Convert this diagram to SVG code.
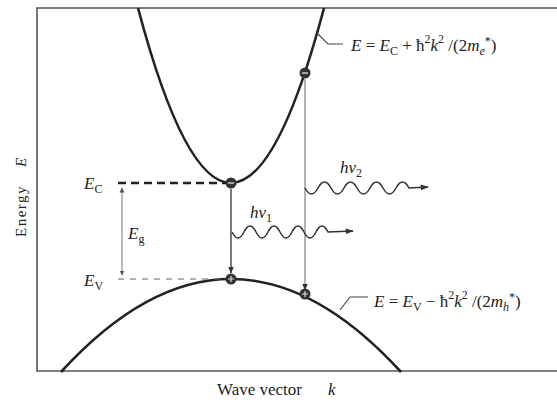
<svg xmlns="http://www.w3.org/2000/svg" width="557" height="400" viewBox="0 0 557 400">
<style>
text{font-family:"Liberation Serif","Times New Roman",serif;fill:#222}
.it{font-style:italic}
.eq{font-size:17px;font-style:italic}
.sm{font-size:12px}
.band{fill:none;stroke:#222;stroke-width:2.6}
.frame{fill:none;stroke:#555;stroke-width:1.6}
.thin{fill:none;stroke:#444;stroke-width:1.1}
.wave{fill:none;stroke:#333;stroke-width:1.5}
</style>
<defs>
<marker id="ah" viewBox="0 0 10 10" refX="9" refY="5" markerWidth="7" markerHeight="7" orient="auto" markerUnits="userSpaceOnUse"><path d="M0,1 L10,5 L0,9 z" fill="#333"/></marker>
<marker id="ahw" viewBox="0 0 10 10" refX="9" refY="5" markerWidth="14" markerHeight="8" orient="auto" markerUnits="userSpaceOnUse"><path d="M0,1.5 L10,5 L0,8.5 z" fill="#333"/></marker>
<marker id="ahs" viewBox="0 0 10 10" refX="9" refY="5" markerWidth="5" markerHeight="6" orient="auto-start-reverse" markerUnits="userSpaceOnUse"><path d="M0,0 L10,5 L0,10 z" fill="#555"/></marker>
</defs>
<g id="frame">
<path class="frame" d="M557,8 H37 V371 H557"/>
</g>
<g id="conduction-band"><path class="band" d="M138,8 Q231,358 324,8"/></g>
<g id="valence-band"><path class="band" d="M61,372 Q231,186 401,372"/></g>
<g id="connectors">
<line x1="118" y1="183" x2="226" y2="183" stroke="#222" stroke-width="2.4" stroke-dasharray="8,5"/>
<line x1="118" y1="279" x2="226" y2="279" stroke="#666" stroke-width="1.2" stroke-dasharray="6,6"/>
<line x1="122" y1="188" x2="122" y2="275" stroke="#666" stroke-width="0.9" marker-start="url(#ahs)" marker-end="url(#ahs)"/>
<line x1="231" y1="189" x2="231" y2="273" stroke="#333" stroke-width="1.3" marker-end="url(#ah)"/>
<line x1="305" y1="79" x2="305" y2="290" stroke="#666" stroke-width="1" marker-end="url(#ah)"/>
<path class="wave" d="M232,232 q6,12 12,0 t12,0 t12,0 t12,0 t12,0 t12,0 t12,0 t12,0 L353,231" marker-end="url(#ahw)"/>
<path class="wave" d="M305,188 q6.5,12 13,0 t13,0 t13,0 t13,0 t13,0 t13,0 t13,0 t13,0 L428,187" marker-end="url(#ahw)"/>
<path class="thin" d="M317,33 L328,44 H343"/>
<path class="thin" d="M340,310 L350,297 H368"/>
</g>
<g id="electron-1"><circle cx="231" cy="183" r="5.5" fill="#333"/><line x1="228" y1="183" x2="234" y2="183" stroke="#ddd" stroke-width="1.3"/></g>
<g id="electron-2"><circle cx="305" cy="73" r="5.5" fill="#333"/><line x1="302" y1="73" x2="308" y2="73" stroke="#ddd" stroke-width="1.3"/></g>
<g id="hole-1"><circle cx="231" cy="279" r="5.5" fill="#333"/><path d="M228,279 H234 M231,276 V282" stroke="#ddd" stroke-width="1.2"/></g>
<g id="hole-2"><circle cx="305" cy="294" r="5.5" fill="#333"/><path d="M302,294 H308 M305,291 V297" stroke="#ddd" stroke-width="1.2"/></g>
<g id="labels">
<text x="84" y="189" class="it" font-size="17">E<tspan class="sm" dy="4" font-style="normal">C</tspan></text>
<text x="84" y="286" class="it" font-size="17">E<tspan class="sm" dy="4" font-style="normal">V</tspan></text>
<text x="128" y="239" class="it" font-size="17">E<tspan class="sm" dy="4" font-style="normal">g</tspan></text>
<text x="250" y="218" class="it" font-size="17">hν<tspan class="sm" dy="4" font-style="normal">1</tspan></text>
<text x="340" y="173" class="it" font-size="17">hν<tspan class="sm" dy="4" font-style="normal">2</tspan></text>
<text x="351" y="51" class="eq">E <tspan font-style="normal">=</tspan> E<tspan class="sm" dy="4" font-style="normal">C</tspan><tspan dy="-4" font-style="normal"> + ħ</tspan><tspan class="sm" dy="-8" font-style="normal">2</tspan><tspan dy="8">k</tspan><tspan class="sm" dy="-8" font-style="normal">2</tspan><tspan dy="8" font-style="normal"> /(2</tspan>m<tspan class="sm" dy="4">e</tspan><tspan class="sm" dy="-10" font-style="normal">*</tspan><tspan dy="6" font-style="normal">)</tspan></text>
<text x="374" y="307" class="eq">E <tspan font-style="normal">=</tspan> E<tspan class="sm" dy="4" font-style="normal">V</tspan><tspan dy="-4" font-style="normal"> − ħ</tspan><tspan class="sm" dy="-8" font-style="normal">2</tspan><tspan dy="8">k</tspan><tspan class="sm" dy="-8" font-style="normal">2</tspan><tspan dy="8" font-style="normal"> /(2</tspan>m<tspan class="sm" dy="4">h</tspan><tspan class="sm" dy="-10" font-style="normal">*</tspan><tspan dy="6" font-style="normal">)</tspan></text>
<text transform="translate(26,237) rotate(-90)" font-size="15" letter-spacing="1.5">Energy<tspan class="it" x="70" letter-spacing="0">E</tspan></text>
<text x="217" y="395" font-size="17">Wave vector<tspan class="it" x="328">k</tspan></text>
</g>
</svg>
